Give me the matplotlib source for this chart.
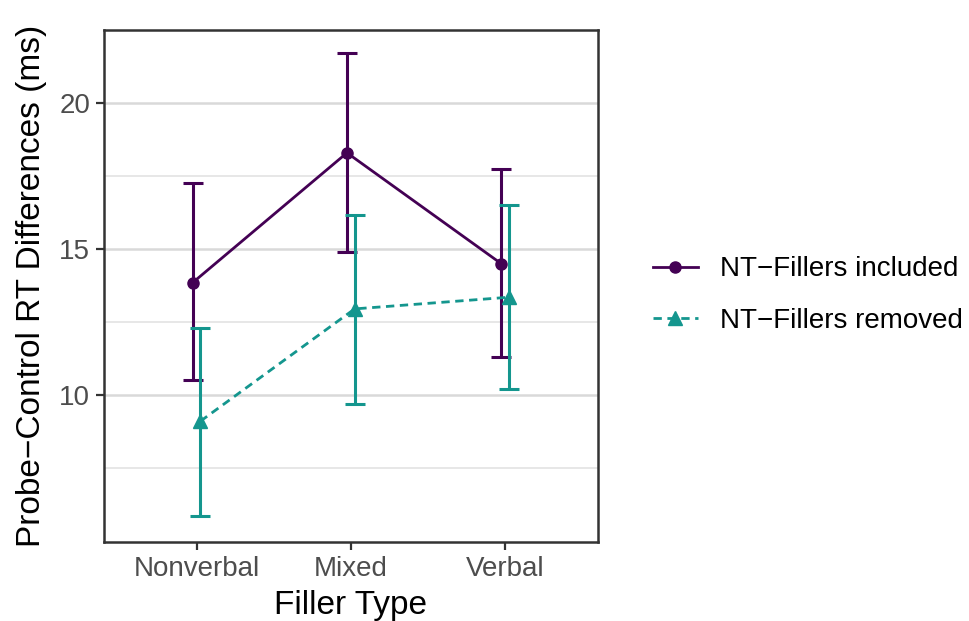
import numpy as np
import matplotlib

matplotlib.use("Agg")
import matplotlib.pyplot as plt

plt.rcParams["font.family"] = ["Liberation Sans", "DejaVu Sans"]

filler_types = ["Nonverbal", "Mixed", "Verbal"]
series_labels = ["NT\u2212Fillers included", "NT\u2212Fillers removed"]

included_mean = [13.85, 18.3, 14.5]
included_low = [10.5, 14.9, 11.3]
included_high = [17.25, 21.72, 17.75]

removed_mean = [9.1, 12.95, 13.35]
removed_low = [5.85, 9.7, 10.2]
removed_high = [12.3, 16.18, 16.52]

colors = ["#440154", "#14968E"]

fig = plt.figure(figsize=(9.69, 6.21), dpi=100)
ax = fig.add_axes([0.1073, 0.1277, 0.5095, 0.824])

x = np.arange(1, len(filler_types) + 1)
dodge = 0.025

series = [
    (included_mean, included_low, included_high, -dodge, "o", "-", 8),
    (removed_mean, removed_low, removed_high, dodge, "^", (0, (3.0, 2.0)), 9.5),
]

handles = []
for (mean, low, high, off, marker, ls, ms), color, label in zip(series, colors, series_labels):
    mean = np.array(mean)
    err = [mean - np.array(low), np.array(high) - mean]
    ax.errorbar(x + off, mean, yerr=err, fmt="none", ecolor=color,
                elinewidth=2.2, capsize=7, capthick=2.2, zorder=3)
    (h,) = ax.plot(x + off, mean, color=color, linestyle=ls, linewidth=2.0,
                   marker=marker, markersize=ms, zorder=4, label=label)
    handles.append(h)

ax.set_xlim(0.4, 3.6)
ax.set_ylim(4.97, 22.51)
ax.set_xticks(x)
ax.set_xticklabels(filler_types)
ax.set_yticks([10, 15, 20])
ax.set_yticks([7.5, 12.5, 17.5], minor=True)

ax.grid(axis="y", which="major", color="#D9D9D9", linewidth=1.8, zorder=0)
ax.grid(axis="y", which="minor", color="#E3E3E3", linewidth=1.2, zorder=0)
ax.set_axisbelow(True)

for spine in ax.spines.values():
    spine.set_color("#333333")
    spine.set_linewidth(1.8)

ax.tick_params(axis="both", which="major", length=6, width=1.6, color="#333333",
               labelsize=20, labelcolor="#4D4D4D", pad=4)
ax.tick_params(axis="y", which="minor", length=0)

ax.set_xlabel("Filler Type", fontsize=24, labelpad=6)
ax.set_ylabel("Probe\u2212Control RT Differences (ms)", fontsize=24, labelpad=9)

fig.legend(handles=handles, labels=series_labels, loc="center left",
           bbox_to_anchor=(0.674, 1 - 295 / 621), frameon=False, fontsize=20,
           handlelength=1.6, handletextpad=0.8, labelspacing=0.9, borderpad=0,
           borderaxespad=0)

fig.savefig("out.png", dpi=100)
plt.close(fig)
